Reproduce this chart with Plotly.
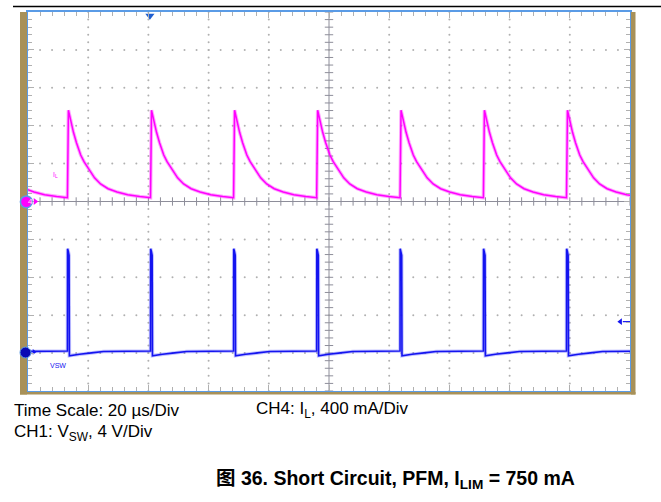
import plotly.graph_objects as go

# ---------------- data read from the scope capture ----------------
time_range_us = [0, 200]            # 10 div x 20 us/div
div_range = [-5, 5]                 # 10 vertical divisions
pulse_start_us = [-14.5, 13.1, 40.7, 68.3, 95.9, 123.6, 151.3, 178.9]

# inductor current (CH4) after each pulse start
il_offset_us = [0.0, 0.33, 1.0, 2.0, 3.0, 4.4, 5.5, 7.5, 9.0, 11.0, 13.5, 16.5, 20.0, 24.0, 27.6]
il_ma = [40, 963, 860, 730, 620, 490, 420, 320, 250, 185, 135, 100, 72, 52, 40]

# switch-node voltage (CH1) after each pulse start
vsw_offset_us = [0.0, 0.05, 0.3, 0.55, 0.65, 1.5, 4.0, 8.0, 12.0, 27.6]
vsw_v = [0.1, 10.9, 10.6, 10.2, -0.4, -0.35, -0.25, -0.1, 0.05, 0.1]

ch4_ma_per_div = 400
ch1_v_per_div = 4
ch4_offset_div = 0.0
ch1_offset_div = -3.97
trigger_time_us = 40.5
trigger_level_v = 3.2

info_lines = ["Time Scale: 20 µs/Div", "CH1: V<sub>SW</sub>, 4 V/Div", "CH4: I<sub>L</sub>, 400 mA/Div"]
caption = "<b>图 36. Short Circuit, PFM, I<sub>LIM</sub> = 750 mA</b>"

# ---------------- layout geometry ----------------
W, H = 661, 502
L, R, T, B = 28, 31, 10, 111
PW, PH = W - L - R, H - T - B


def X(px):
    return (px - L) / PW


def Y(py):
    return (T + PH - py) / PH


MAG = "#FF00FF"
BLU = "#1414F0"
EDGE = "#5A9BE6"
GOLD = "#A89159"
GRID = "#B0B0B0"
CROSS = "#8E8E9A"

# build traces from the per-pulse shapes
t_il, y_il = [], []
for ts in pulse_start_us:
    for o, v in zip(il_offset_us, il_ma):
        t_il.append(ts + o)
        y_il.append(v / ch4_ma_per_div + ch4_offset_div)

t_vs, y_vs = [], []
for ts in pulse_start_us:
    for o, v in zip(vsw_offset_us, vsw_v):
        t_vs.append(ts + o)
        y_vs.append(v / ch1_v_per_div + ch1_offset_div)

fig = go.Figure()

# dotted graticule
xmaj = [20 * i for i in range(1, 10) if i != 5]
ymaj = [i for i in range(-4, 5) if i != 0]
yminor = [-5 + 0.2 * k for k in range(51)]
xminor = [4 * k for k in range(51)]
gx, gy = [], []
for x in xmaj:
    for y in yminor:
        gx.append(x); gy.append(y)
for y in ymaj:
    for x in xminor:
        gx.append(x); gy.append(y)
fig.add_trace(go.Scatter(x=gx, y=gy, mode="markers", hoverinfo="skip",
                         marker=dict(size=2, color=GRID, line=dict(width=0))))

# centre cross ticks
fig.add_trace(go.Scatter(x=[100] * len(yminor), y=yminor, mode="markers", hoverinfo="skip",
                         marker=dict(symbol="line-ew", size=6, line=dict(width=1, color=CROSS))))
fig.add_trace(go.Scatter(x=xminor, y=[0] * len(xminor), mode="markers", hoverinfo="skip",
                         marker=dict(symbol="line-ns", size=6, line=dict(width=1, color=CROSS))))

# waveforms
fig.add_trace(go.Scatter(x=t_vs, y=y_vs, mode="lines", hoverinfo="skip",
                         line=dict(color="rgba(60,60,255,0.30)", width=3.5)))
fig.add_trace(go.Scatter(x=t_vs, y=y_vs, mode="lines", line=dict(color=BLU, width=1.6)))
fig.add_trace(go.Scatter(x=t_il, y=y_il, mode="lines", hoverinfo="skip",
                         line=dict(color="rgba(255,0,255,0.35)", width=3.5)))
fig.add_trace(go.Scatter(x=t_il, y=y_il, mode="lines", line=dict(color=MAG, width=1.5)))

# channel ground arrows
fig.add_trace(go.Scatter(x=[2.4], y=[ch4_offset_div], mode="markers", cliponaxis=False,
                         marker=dict(symbol="triangle-right", size=6, color=MAG)))
fig.add_trace(go.Scatter(x=[2.0], y=[ch1_offset_div], mode="markers", cliponaxis=False,
                         marker=dict(symbol="triangle-right", size=5, color=BLU)))

# trigger markers
fig.add_trace(go.Scatter(x=[trigger_time_us], y=[4.9], mode="markers", cliponaxis=False,
                         marker=dict(symbol="triangle-down", size=8, color="#1F5FD0")))
trig_y = trigger_level_v / ch1_v_per_div + ch1_offset_div
fig.add_trace(go.Scatter(x=[196.8], y=[trig_y], mode="markers", cliponaxis=False,
                         marker=dict(symbol="triangle-left", size=6, color=BLU)))
fig.add_trace(go.Scatter(x=[197.6, 200], y=[trig_y, trig_y], mode="lines",
                         line=dict(color=BLU, width=1.2)))

shapes = [
    dict(type="line", xref="x", yref="y", x0=100, x1=100, y0=-5, y1=5,
         line=dict(color=CROSS, width=1), layer="below"),
    dict(type="line", xref="x", yref="y", x0=0, x1=200, y0=0, y1=0,
         line=dict(color=CROSS, width=1), layer="below"),
    # gold bezel
    dict(type="rect", xref="paper", yref="paper", x0=X(20), x1=X(27.0), y0=Y(394.5), y1=Y(10),
         fillcolor=GOLD, line=dict(width=0), layer="above"),
    dict(type="rect", xref="paper", yref="paper", x0=X(631.0), x1=X(635.5), y0=Y(394.5), y1=Y(10),
         fillcolor=GOLD, line=dict(width=0), layer="above"),
    dict(type="rect", xref="paper", yref="paper", x0=X(20), x1=X(635.5), y0=Y(394.5), y1=Y(392.0),
         fillcolor=GOLD, line=dict(width=0), layer="above"),
    # channel ground badges (drawn over the bezel)
    dict(type="circle", xref="paper", yref="paper", x0=X(20.4), x1=X(32.2), y0=Y(206.7), y1=Y(194.9),
         fillcolor=MAG, line=dict(color=EDGE, width=1.5), layer="above"),
    dict(type="circle", xref="paper", yref="paper", x0=X(20.0), x1=X(31.0), y0=Y(357.8), y1=Y(346.8),
         fillcolor="#0A0AB4", line=dict(color=EDGE, width=1), layer="above"),
    # page rule at top
    dict(type="line", xref="paper", yref="paper", x0=X(13), x1=X(661), y0=Y(4.5), y1=Y(4.5),
         line=dict(color="black", width=1.5)),
]

FONT = "Liberation Sans, Arial, Noto Sans CJK SC, sans-serif"
annotations = [
    dict(x=X(26.3), y=Y(200.8), xref="paper", yref="paper", text="4", showarrow=False,
         font=dict(size=8, color="#FFD8FF", family=FONT)),
    dict(x=X(25.5), y=Y(352.3), xref="paper", yref="paper", text="1", showarrow=False,
         font=dict(size=8, color="white", family=FONT)),
    dict(x=9.0, y=0.70, xref="x", yref="y", text="I<sub>L</sub>", showarrow=False,
         font=dict(size=7, color=MAG, family=FONT)),
    dict(x=10.0, y=-4.32, xref="x", yref="y", text="VSW", showarrow=False,
         font=dict(size=7, color=BLU, family=FONT)),
    dict(x=X(12), y=Y(410.5), xref="paper", yref="paper", xanchor="left", yanchor="middle",
         text=info_lines[0], showarrow=False, font=dict(size=17, color="black", family=FONT)),
    dict(x=X(12), y=Y(433), xref="paper", yref="paper", xanchor="left", yanchor="middle",
         text=info_lines[1], showarrow=False, font=dict(size=17, color="black", family=FONT)),
    dict(x=X(254), y=Y(410.5), xref="paper", yref="paper", xanchor="left", yanchor="middle",
         text=info_lines[2], showarrow=False, font=dict(size=17, color="black", family=FONT)),
    dict(x=X(214), y=Y(480.3), xref="paper", yref="paper", xanchor="left", yanchor="middle",
         text=caption, showarrow=False, font=dict(size=19.5, color="black", family=FONT)),
]

axis_common = dict(showgrid=False, zeroline=False, showticklabels=False,
                   showline=True, linecolor=EDGE, linewidth=2, mirror="allticks",
                   ticks="inside", ticklen=6, tickwidth=1, tickcolor=GRID,
                   fixedrange=True)

fig.update_layout(
    width=W, height=H,
    margin=dict(l=L, r=R, t=T, b=B),
    paper_bgcolor="white", plot_bgcolor="white",
    showlegend=False,
    shapes=shapes,
    annotations=annotations,
    xaxis=dict(range=time_range_us, tick0=0, dtick=20,
               minor=dict(ticks="inside", ticklen=4, dtick=4, tickcolor=GRID, showgrid=False),
               **axis_common),
    yaxis=dict(range=div_range, tick0=-5, dtick=1,
               minor=dict(ticks="inside", ticklen=4, dtick=0.2, tickcolor=GRID, showgrid=False),
               **axis_common),
)

fig.write_html("out.html", config={"displayModeBar": False},
               post_script="document.body.style.margin='0';document.body.style.overflow='hidden';")
